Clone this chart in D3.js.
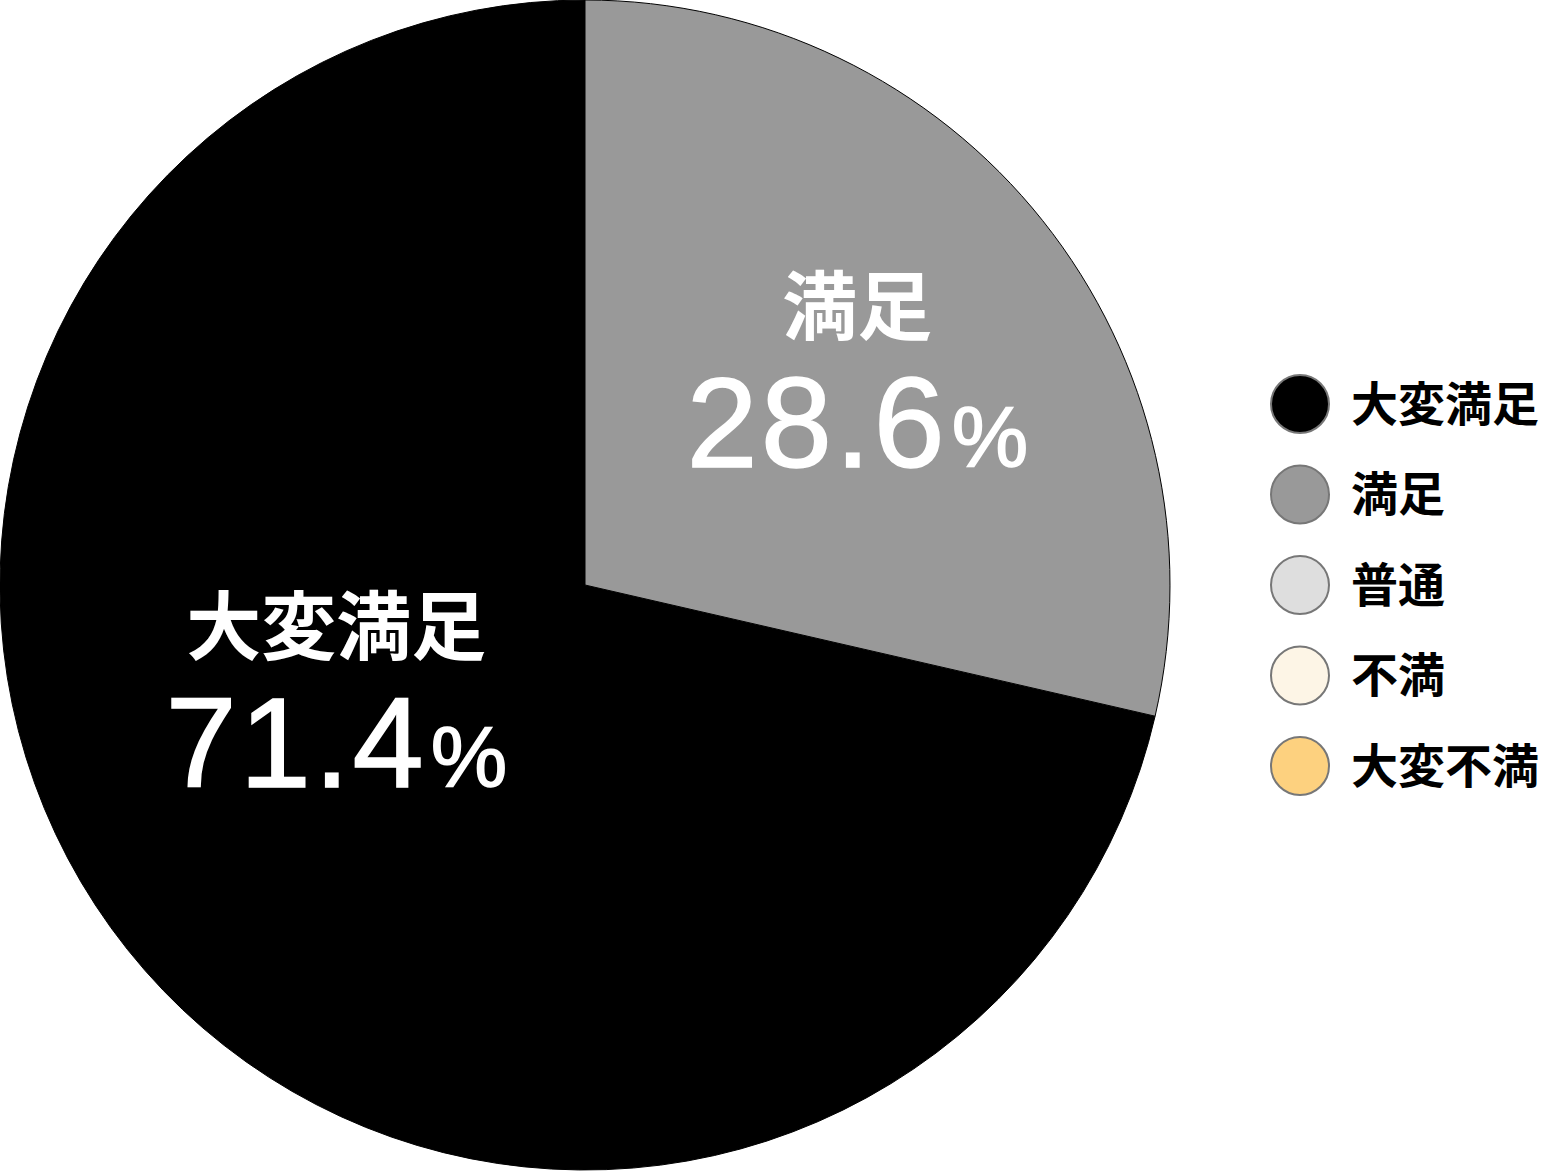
<!DOCTYPE html>
<html>
<head>
<meta charset="utf-8">
<script src="https://cdn.jsdelivr.net/npm/d3@7"></script>
<style>
  body { margin: 0; background: #fff; }
  svg { display: block; }
</style>
</head>
<body>
<div id="chart"></div>
<script>
// 満足度の円グラフ

const categories = ["大変満足", "満足", "普通", "不満", "大変不満"];
const values = [71.4, 28.6, 0, 0, 0];
const colors = ["#000000", "#999999", "#dedede", "#fdf5e6", "#fdd17f"];

const width = 1542;
const height = 1171;
const radius = 585;
const cx = 585;
const cy = 585;

const svg = d3.select("#chart")
  .append("svg")
  .attr("width", width)
  .attr("height", height);

const colorScale = d3.scaleOrdinal().domain(categories).range(colors);

const data = categories.map((name, i) => ({ name, value: values[i] }));

// 満足から時計回りに描く（大変満足が最後）
const order = ["満足", "大変満足", "普通", "不満", "大変不満"];
const pie = d3.pie()
  .sort((a, b) => order.indexOf(a.name) - order.indexOf(b.name))
  .value(d => d.value);
const arcs = pie(data).filter(d => d.value > 0);

const arc = d3.arc().innerRadius(0).outerRadius(radius);

const g = svg.append("g").attr("transform", `translate(${cx},${cy})`);

g.selectAll("path")
  .data(arcs)
  .join("path")
  .attr("fill", d => colorScale(d.data.name))
  .attr("stroke", "#000")
  .attr("stroke-width", 1)
  .attr("d", arc);

// ラベル位置（ラベルごとに半径と角度を少し調整）
const labelShift = { "満足": 0, "大変満足": 0.28 };
const labelRadius = { "満足": 0.595, "大変満足": 0.46 };

const labels = g.selectAll("g.label")
  .data(arcs)
  .join("g")
  .attr("class", "label")
  .attr("transform", d => {
    const a = (d.startAngle + d.endAngle) / 2 + labelShift[d.data.name];
    const r = radius * labelRadius[d.data.name];
    return `translate(${r * Math.sin(a)},${-r * Math.cos(a)})`;
  });

labels.append("text")
  .attr("text-anchor", "middle")
  .attr("y", -34)
  .attr("fill", "#fff")
  .style("font-family", "'Noto Sans CJK JP', sans-serif")
  .style("font-weight", "bold")
  .style("font-size", "75px")
  .text(d => d.data.name);

const pct = labels.append("text")
  .attr("text-anchor", "middle")
  .attr("y", 99)
  .attr("fill", "#fff")
  .attr("stroke", "#fff")
  .attr("stroke-width", 1.5)
  .style("font-family", "'Liberation Sans', Arial, sans-serif");

pct.append("tspan")
  .style("font-size", "128px")
  .style("letter-spacing", "3px")
  .text(d => d3.format(".1f")(d.value));
pct.append("tspan")
  .style("font-size", "86px")
  .attr("dx", 4)
  .text("%");

// 凡例
const legendY = d3.scalePoint().domain(categories).range([404, 766]);

const legend = svg.append("g")
  .selectAll("g")
  .data(categories)
  .join("g")
  .attr("transform", d => `translate(1300,${legendY(d)})`);

legend.append("circle")
  .attr("r", 29)
  .attr("fill", d => colorScale(d))
  .attr("stroke", "#777")
  .attr("stroke-width", 2);

legend.append("text")
  .attr("x", 51)
  .attr("dy", "0.36em")
  .style("font-family", "'Noto Sans CJK JP', sans-serif")
  .style("font-weight", "bold")
  .style("font-size", "47px")
  .attr("fill", "#000")
  .text(d => d);
</script>
</body>
</html>
